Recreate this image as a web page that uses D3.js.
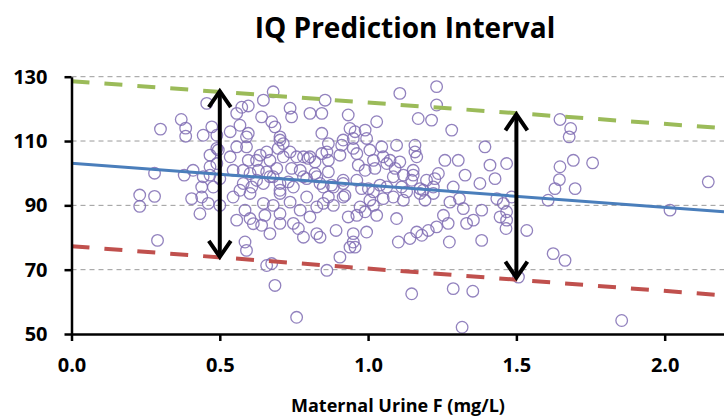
<!DOCTYPE html>
<html>
<head>
<meta charset="utf-8">
<script src="https://cdn.jsdelivr.net/npm/d3@7"></script>
<style>
  body { margin: 0; background: #fff; }
  svg text { font-family: "Open Sans", "Noto Sans", sans-serif; font-weight: bold; fill: #000; }
</style>
</head>
<body>
<div id="chart"></div>
<script>
// maternal urine fluoride (mg/L) and child IQ
const fluoride = [
  0.23, 0.23, 0.28, 0.29, 0.28, 0.30, 0.37, 0.385, 0.385, 0.38,
  0.456, 0.444, 0.473, 0.467, 0.41, 0.49, 0.495, 0.535, 0.557, 0.574,
  0.596, 0.568, 0.557, 0.596, 0.59, 0.647, 0.68, 0.641, 0.675, 0.686,
  0.737, 0.742, 0.804, 0.844, 0.855, 0.844, 0.703, 0.714, 0.737, 0.658,
  0.624, 0.669, 0.596, 0.535, 0.545, 0.579, 0.692, 0.742, 0.782, 0.804,
  0.821, 0.844, 0.782, 0.827, 0.849, 0.49, 0.444, 0.439, 0.478, 0.568,
  0.608, 0.647, 0.669, 0.703, 0.748, 0.467, 0.63, 1.107, 1.231, 1.231,
  1.169, 1.214, 1.282, 0.933, 1.029, 0.939, 0.956, 0.99, 0.95, 0.995,
  0.866, 0.911, 0.861, 0.905, 0.95, 1.006, 1.046, 1.096, 1.158, 1.158,
  1.051, 0.967, 1.018, 1.074, 1.023, 1.091, 1.085, 1.259, 1.304, 1.394,
  1.411, 1.467, 1.237, 1.225, 1.327, 1.377, 1.428, 1.287, 1.147, 1.113,
  1.175, 0.916, 0.962, 0.978, 0.922, 1.018, 1.063, 0.866, 0.883, 1.647,
  1.683, 1.678, 1.692, 1.757, 1.647, 1.645, 1.63, 1.698, 2.147, 2.018,
  1.607, 1.535, 1.624, 1.664, 1.855, 1.287, 1.353, 1.317, 1.465, 1.467,
  1.445, 1.467, 1.456, 1.484, 1.434, 1.383, 1.383, 1.355, 1.332, 1.321,
  1.274, 1.27, 1.254, 1.276, 1.308, 1.186, 1.192, 1.22, 1.231, 1.203,
  1.181, 1.507, 1.147, 0.861, 0.905, 0.892, 0.95, 0.995, 0.95, 0.939,
  0.956, 1.102, 1.141, 1.164, 1.096, 1.051, 1.085, 1.119, 0.849, 0.883,
  0.866, 0.916, 0.933, 0.962, 0.99, 1.018, 1.029, 0.973, 1.006, 0.838,
  0.405, 0.439, 0.433, 0.461, 0.5, 0.545, 0.557, 0.585, 0.602, 0.613,
  0.641, 0.585, 0.59, 0.658, 0.675, 0.686, 0.669, 0.703, 0.748, 0.765,
  0.782, 0.827, 0.647, 0.68, 0.703, 0.737, 0.771, 0.804, 0.827, 0.793,
  0.652, 0.602, 0.703, 0.759, 0.49, 0.59, 0.636, 0.703, 0.697, 0.714,
  0.759, 0.798, 0.916, 0.962, 1.164, 1.107, 1.063, 0.99, 0.866, 1.119,
  1.152, 1.197, 1.152, 0.771, 0.793, 0.821, 0.838, 0.658, 0.68, 0.703,
  0.731, 0.602, 0.624, 0.579, 0.5, 0.467, 0.877, 0.916, 1.001, 1.04,
  1.13, 1.175, 1.22
];
const iq = [
  93.2, 89.7, 92.8, 79.1, 100, 113.7, 116.7, 114, 111.5, 99.4,
  121.7, 111.8, 114.4, 105.6, 100.9, 111.8, 107.2, 112.9, 118.6, 120.5,
  120.9, 114.9, 108.2, 112.4, 108.2, 122.7, 125.3, 117.5, 116, 114.4,
  120.2, 117.5, 118.6, 118.6, 122.7, 112.4, 111.3, 109.2, 106.6, 106.6,
  104, 104, 104, 105.1, 100.9, 100.9, 101.5, 101.5, 105.1, 105.1,
  103.5, 106.1, 98.9, 98.9, 95.7, 103, 98.9, 95.7, 95.7, 94.7,
  95.7, 96.8, 98.9, 94.7, 95.7, 99.4, 100.9, 124.8, 126.9, 121.2,
  117, 116.5, 113.4, 118.1, 116, 113.9, 112.9, 113.4, 110.8, 110.8,
  109.2, 108.7, 106.6, 105.6, 107.7, 107.2, 108.2, 108.7, 108.7, 106.6,
  105.1, 102.5, 104, 104, 101.5, 101.5, 98.9, 104, 104, 108.2,
  102.5, 103, 99.9, 98.3, 99.4, 96.8, 98.3, 95.7, 97.8, 95.7,
  95.2, 97.8, 97.8, 95.2, 93.1, 94.2, 95.7, 100.4, 95.7, 116.7,
  113.9, 111.3, 104, 103.2, 102, 98, 95.2, 95.2, 97.3, 88.5,
  91.6, 82.2, 75, 72.9, 54.2, 64.1, 63.3, 52.1, 82.8, 85.4,
  86.4, 88, 90.6, 92.6, 92.1, 88.5, 79.1, 85.4, 84.4, 89,
  78.6, 84.4, 86.9, 91, 92.1, 94.7, 91.6, 93.7, 83.3, 82.2,
  80.7, 67.7, 62.5, 69.8, 73.9, 82.2, 81.2, 81.7, 78.6, 77,
  77, 78.6, 79.7, 81.7, 85.9, 92.1, 92.6, 91.6, 90.6, 90,
  92.6, 92.6, 86.4, 86.9, 88, 90, 86.9, 89.5, 91.6, 80.1,
  92.1, 92.6, 87.4, 90.6, 90, 92.6, 85.4, 88.5, 85.9, 84.3,
  83.8, 78.6, 76, 71.3, 71.9, 65.1, 81.2, 84.4, 84.4, 82.8,
  80.1, 81.2, 90.6, 90, 87.4, 91, 88.5, 86.4, 89.5, 92.6,
  86.9, 93.7, 93.7, 55.2, 107.7, 111.3, 105.6, 110.3, 107.7, 105.1,
  105.1, 104.6, 110.3, 106.1, 105.1, 103.5, 103, 100.9, 104, 99.4,
  99.4, 97.8, 100.9, 100.9, 98.3, 99.9, 96.8, 100.4, 98.9, 96.8,
  97.3, 99.9, 97.8, 96.8, 98.3, 102, 96.3, 96.8, 95.2, 96.3,
  94.2, 93.7, 95.7
];

// fitted line and 95% prediction band, at the two ends of the x range
const lineX = [0, 2.2];
const fitIQ = [103.1, 88.0];
const upperIQ = [128.6, 114.0];
const lowerIQ = [77.3, 62.0];

// double-headed arrows marking the interval width
const arrowX = [0.5, 1.5];
const arrowTop = [125.5, 118.3];
const arrowBottom = [74.0, 67.5];

const yTicks = [50, 70, 90, 110, 130];
const xTicks = [0, 0.5, 1.0, 1.5, 2.0];

const width = 724, height = 417;
const svg = d3.select("#chart").append("svg")
  .attr("width", width)
  .attr("height", height);

const x = d3.scaleLinear().domain([0, 2.2]).range([71.5, 724]);
const y = d3.scaleLinear().domain([50, 130]).range([334, 76.7]);

// title
svg.append("text")
  .attr("x", 405)
  .attr("y", 38)
  .attr("text-anchor", "middle")
  .style("font-size", "28px")
  .text("IQ Prediction Interval");

// dashed gridlines
svg.append("g").selectAll("line")
  .data(yTicks.filter(d => d > 50))
  .join("line")
  .attr("x1", x(0)).attr("x2", width)
  .attr("y1", d => y(d)).attr("y2", d => y(d))
  .attr("stroke", "#9a9a9a")
  .attr("stroke-width", 1)
  .attr("stroke-dasharray", "5,4");

// scatter
svg.append("g").selectAll("circle")
  .data(fluoride.map((f, i) => [f, iq[i]]))
  .join("circle")
  .attr("cx", d => x(d[0]))
  .attr("cy", d => y(d[1]))
  .attr("r", 5.8)
  .attr("fill", "none")
  .attr("stroke", "#7f6cb3")
  .attr("stroke-opacity", 0.85)
  .attr("stroke-width", 1.3);

// band lines
const pairs = vals => lineX.map((v, i) => [v, vals[i]]);
const line = d3.line().x(d => x(d[0])).y(d => y(d[1]));

svg.append("path").datum(pairs(upperIQ))
  .attr("d", line).attr("fill", "none")
  .attr("stroke", "#9bbb59").attr("stroke-width", 4)
  .attr("stroke-dasharray", "18,15");

svg.append("path").datum(pairs(lowerIQ))
  .attr("d", line).attr("fill", "none")
  .attr("stroke", "#c0504d").attr("stroke-width", 4)
  .attr("stroke-dasharray", "18,15");

svg.append("path").datum(pairs(fitIQ))
  .attr("d", line).attr("fill", "none")
  .attr("stroke", "#4a7ebb").attr("stroke-width", 3);

// arrows
const arrows = svg.append("g")
  .selectAll("g")
  .data(arrowX.map((a, i) => ({ x: a, top: arrowTop[i], bottom: arrowBottom[i] })))
  .join("g")
  .attr("fill", "none")
  .attr("stroke", "#000")
  .attr("stroke-width", 4);

arrows.append("line")
  .attr("x1", d => x(d.x)).attr("x2", d => x(d.x))
  .attr("y1", d => y(d.top) + 2).attr("y2", d => y(d.bottom) - 2);

arrows.append("path")
  .attr("d", d => `M${x(d.x) - 11},${y(d.top) + 16}L${x(d.x)},${y(d.top)}L${x(d.x) + 11},${y(d.top) + 16}`);

arrows.append("path")
  .attr("d", d => `M${x(d.x) - 11},${y(d.bottom) - 16}L${x(d.x)},${y(d.bottom)}L${x(d.x) + 11},${y(d.bottom) - 16}`);

// axes
const yAxis = svg.append("g")
  .attr("transform", `translate(${x(0)},0)`)
  .call(d3.axisLeft(y).tickValues(yTicks).tickSize(7).tickSizeOuter(0).tickPadding(17));

const xAxis = svg.append("g")
  .attr("transform", `translate(0,${y(50)})`)
  .call(d3.axisBottom(x).tickValues(xTicks).tickFormat(d3.format(".1f"))
    .tickSize(7).tickSizeOuter(0).tickPadding(17));

[yAxis, xAxis].forEach(g => {
  g.select(".domain").attr("stroke", "#000").attr("stroke-width", 2.5);
  g.selectAll(".tick line").attr("stroke", "#000").attr("stroke-width", 2.5);
  g.selectAll("text").style("font-size", "20px").style("font-family", null).attr("fill", "#000");
});

svg.append("text")
  .attr("x", 398)
  .attr("y", 412)
  .attr("text-anchor", "middle")
  .style("font-size", "18px")
  .text("Maternal Urine F (mg/L)");
</script>
</body>
</html>
